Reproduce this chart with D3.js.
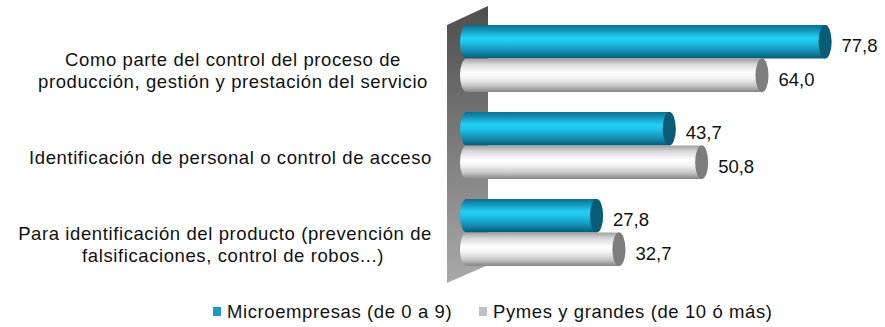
<!DOCTYPE html>
<html>
<head>
<meta charset="utf-8">
<script src="https://cdn.jsdelivr.net/npm/d3@7"></script>
<style>
body { margin: 0; background: #fff; }
text { font-family: "Liberation Sans", Arial, sans-serif; fill: #111; }
</style>
</head>
<body>
<script>
var width = 885, height = 327;

// data
var categories = [
  ["Como parte del control del proceso de", "producción, gestión y prestación del servicio"],
  ["Identificación de personal o control de acceso"],
  ["Para identificación del producto (prevención de", "falsificaciones, control de robos...)"]
];
var seriesNames = ["Microempresas (de 0 a 9)", "Pymes y grandes (de 10 ó más)"];
var micro = [77.8, 43.7, 27.8];
var pymes = [64.0, 50.8, 32.7];

var svg = d3.select("body").append("svg")
  .attr("width", width)
  .attr("height", height);

var defs = svg.append("defs");

function vgrad(id, stops) {
  var g = defs.append("linearGradient").attr("id", id)
    .attr("x1", 0).attr("y1", 0).attr("x2", 0).attr("y2", 1);
  stops.forEach(function(s) {
    g.append("stop").attr("offset", s[0]).attr("stop-color", s[1]);
  });
}
vgrad("gBlue", [[0, "#0a6f8e"], [0.15, "#1493b8"], [0.38, "#22d0f7"], [0.5, "#1fc4ec"], [0.78, "#138fb4"], [1, "#075a75"]]);
vgrad("gGray", [[0, "#a0a0a0"], [0.18, "#d8d8d8"], [0.42, "#ffffff"], [0.6, "#f2f2f2"], [0.82, "#c4c4c4"], [1, "#858585"]]);
vgrad("gWall", [[0, "#4e4e4e"], [1, "#a9a9a9"]]);

var x = d3.scaleLinear().domain([0, 100]).range([476, 933]);

var y = d3.scaleBand().domain(d3.range(categories.length))
  .range([15, 276]).paddingInner(0.23).paddingOuter(0.115);

var ySub = d3.scaleBand().domain([0, 1]).range([0, y.bandwidth()]);

// back wall
var wallPts = [[447, 25], [488, 6], [488, 265], [447, 283]];
svg.append("path")
  .attr("d", d3.line()(wallPts) + "Z")
  .attr("fill", "url(#gWall)");

var series = [
  { vals: micro, grad: "url(#gBlue)", cap: "#0a5b76", key: "#1a9bc6" },
  { vals: pymes, grad: "url(#gGray)", cap: "#7d7d7d", key: "#c0c0c0" }
];

var capRx = 6.5;
var depth = 16;

series.forEach(function(s, si) {
  var g = svg.append("g");
  var bars = g.selectAll("g").data(s.vals).enter().append("g")
    .attr("transform", function(d, i) { return "translate(0," + (y(i) + ySub(si)) + ")"; });

  var h = ySub.bandwidth();
  bars.append("rect")
    .attr("x", x(0) - depth)
    .attr("y", 0)
    .attr("width", function(d) { return x(d) - x(0) + depth; })
    .attr("height", h)
    .attr("rx", capRx).attr("ry", h / 2)
    .attr("fill", s.grad);

  bars.append("ellipse")
    .attr("cx", function(d) { return x(d) - capRx; })
    .attr("cy", h / 2)
    .attr("rx", capRx)
    .attr("ry", h / 2)
    .attr("fill", s.cap);

  bars.append("text")
    .attr("x", function(d) { return x(d) + 10; })
    .attr("y", h / 2 + 4)
    .attr("dy", "0.35em")
    .attr("font-size", 18.5)
    .text(function(d) { return d3.format(".1f")(d).replace(".", ","); });
});

// category labels (centred, but kept left of the wall)
var lineH = 22.5, labelX = 233, labelRight = 432;
categories.forEach(function(lines, i) {
  var cy = y(i) + y.bandwidth() / 2 + 12;
  var t = svg.append("text")
    .attr("text-anchor", "middle")
    .attr("font-size", 18.5)
    .attr("letter-spacing", 0.6);
  lines.forEach(function(l, j) {
    var ts = t.append("tspan")
      .attr("x", labelX)
      .attr("y", cy + (j - (lines.length - 1) / 2) * lineH)
      .attr("dy", "0.35em")
      .text(l);
    var w = ts.node().getComputedTextLength();
    if (labelX + w / 2 > labelRight) ts.attr("x", labelRight - w / 2);
  });
});

// legend
var legX = [213, 479];
var legend = svg.append("g");
seriesNames.forEach(function(n, i) {
  legend.append("rect")
    .attr("x", legX[i]).attr("y", 307)
    .attr("width", 8).attr("height", 9)
    .attr("fill", series[i].key);
  legend.append("text")
    .attr("x", legX[i] + 14).attr("y", 312)
    .attr("dy", "0.35em")
    .attr("font-size", 18.5)
    .attr("letter-spacing", 0.6)
    .text(n);
});
</script>
</body>
</html>
